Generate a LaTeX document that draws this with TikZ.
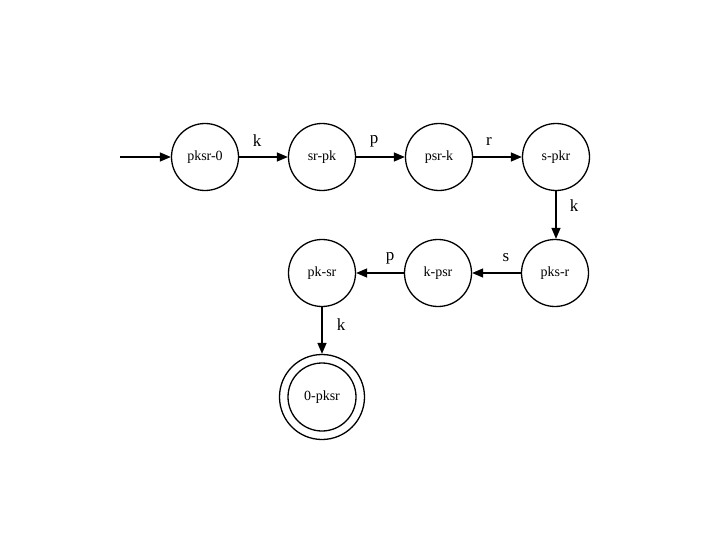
\documentclass[tikz,border=0pt]{standalone}
\usepackage{fontspec}
\setmainfont{Liberation Serif}
\usetikzlibrary{arrows.meta}
\begin{document}
\begin{tikzpicture}[x=1pt,y=-1pt,
  state/.style={draw,circle,line width=1.3pt,minimum size=67pt,inner sep=0pt,font=\fontsize{14}{16}\selectfont},
  trans/.style={line width=1.3pt,-{Triangle[length=11pt,width=9pt]}},
  lbl/.style={font=\fontsize{17}{19}\selectfont,inner sep=0pt}]
\useasboundingbox (0,0) rectangle (720,540);
\node[state] (a) at (205,157) {pksr-0};
\node[state] (b) at (322,157) {sr-pk};
\node[state] (c) at (439,157) {psr-k};
\node[state] (d) at (556,157) {s-pkr};
\node[state] (e) at (555,273) {pks-r};
\node[state] (f) at (438,273) {k-psr};
\node[state] (g) at (322,273) {pk-sr};
\node[state,minimum size=85pt] (h) at (322,397) {0-pksr};
\draw[line width=1.3pt] (h.center) circle (34);
\coordinate (s) at (120,157);
\draw[trans] (s) -- (a);
\draw[trans] (a) -- (b);
\draw[trans] (b) -- (c);
\draw[trans] (c) -- (d);
\draw[trans] (d.south) -- (d.south |- e.north);
\draw[trans] (e) -- (f);
\draw[trans] (f) -- (g);
\draw[trans] (g) -- (h);
\node[lbl] (l1) at (257,141) {k};
\node[lbl] (l2) at (374,141) {p};
\node[lbl] (l3) at (489,141) {r};
\node[lbl] (l4) at (574,206) {k};
\node[lbl] (l5) at (506,258) {s};
\node[lbl] (l6) at (390,258) {p};
\node[lbl] (l7) at (341,325) {k};
\end{tikzpicture}
\end{document}
